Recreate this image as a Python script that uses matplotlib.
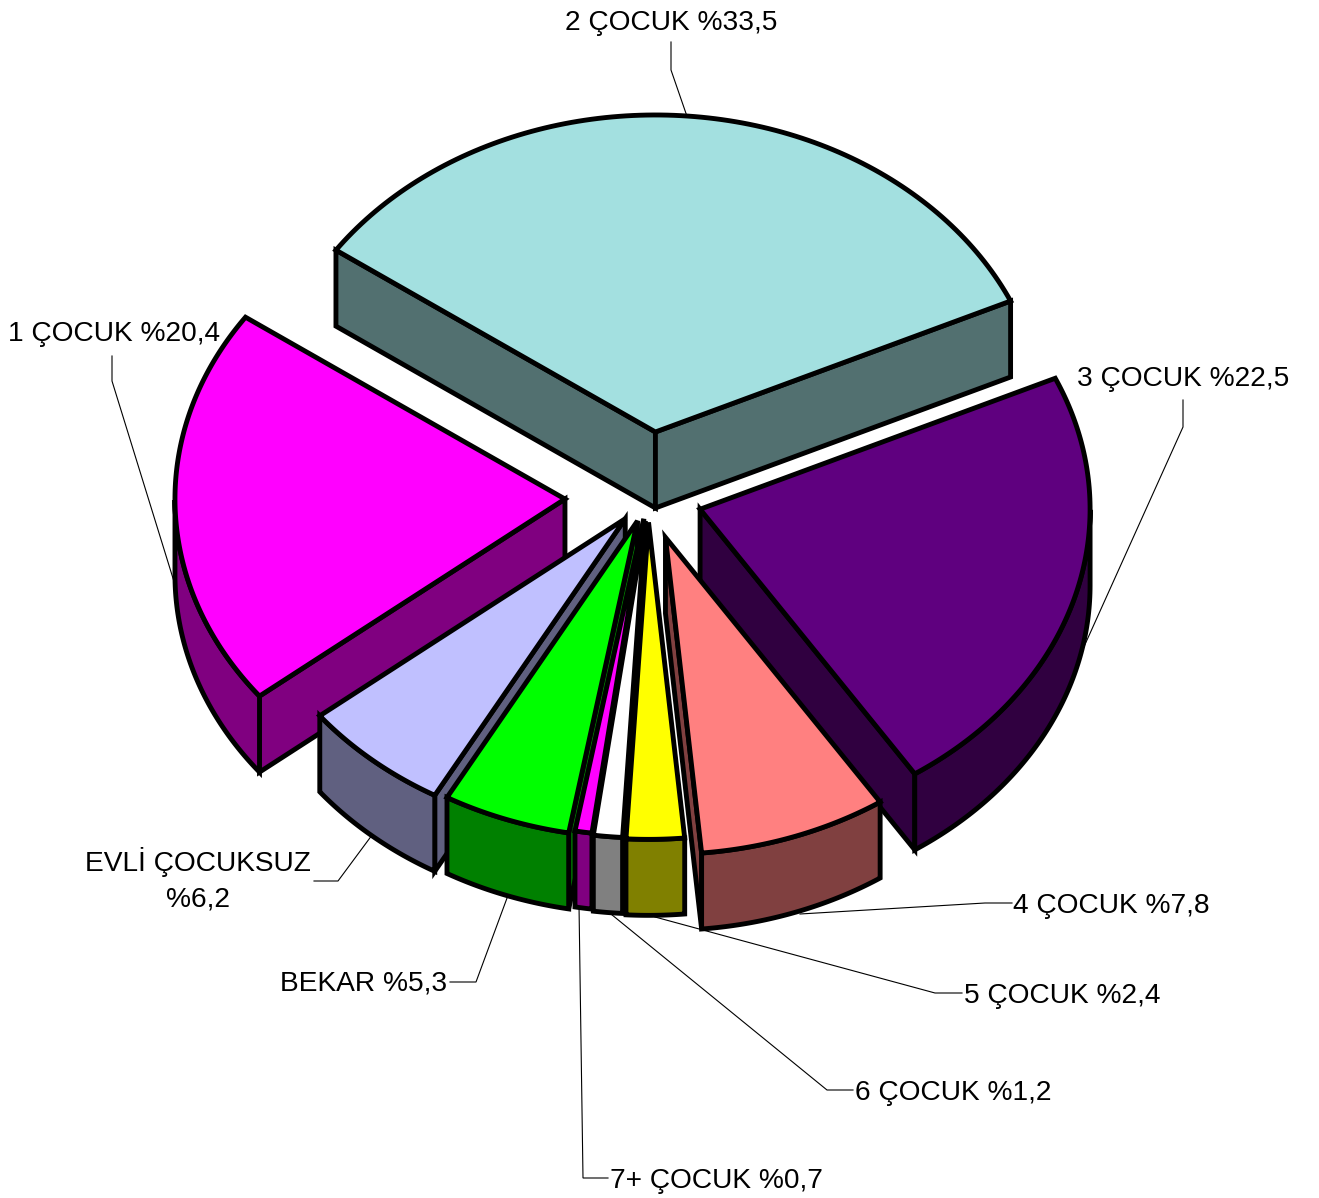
import numpy as np
import matplotlib
matplotlib.use("Agg")
import matplotlib.pyplot as plt
from matplotlib.patches import Polygon

plt.rcParams['font.family'] = ['Liberation Sans', 'DejaVu Sans']

# clockwise order, starting from the 1 COCUK / 2 COCUK boundary
names = ["2 ÇOCUK", "3 ÇOCUK", "4 ÇOCUK", "5 ÇOCUK", "6 ÇOCUK", "7+ ÇOCUK", "BEKAR", "EVLİ ÇOCUKSUZ", "1 ÇOCUK"]
values = [33.5, 22.5, 7.8, 2.4, 1.2, 0.7, 5.3, 6.2, 20.4]

top_colors = ["#A3E0E0", "#5F007F", "#FF8080", "#FFFF00", "#FFFFFF", "#FF00FF", "#00FF00", "#C0C0FF", "#FF00FF"]
side_colors = ["#527070", "#300040", "#804040", "#808000", "#808080", "#800080", "#008000", "#606080", "#800080"]
explode = [0.206, 0.139, 0.135, 0.08, 0.076, 0.07, 0.08, 0.09, 0.213]
draw_order = [0, 1, 8, 2, 7, 6, 5, 4, 3]

# label text anchors (x, baseline y, ha) and leader lines in pixels
label_pos = [(565, 30, 'left'), (1077, 386, 'left'), (1013, 913, 'left'), (964, 1003, 'left'),
             (855, 1100, 'left'), (610, 1188, 'left'), (280, 991, 'left'), (198, 907, 'center'), (8, 341, 'left')]
leaders = [[(671, 42), (671, 70), (690, 125)],
           [(1183, 400), (1183, 427), (1078, 660)],
           [(1012, 903), (985, 903), (800, 914)],
           [(962, 993), (935, 993), (655, 917)],
           [(853, 1090), (827, 1090), (606, 910)],
           [(608, 1178), (583, 1178), (579, 905)],
           [(450, 982), (476, 982), (510, 890)],
           [(314, 881), (338, 881), (378, 827)],
           [(112, 356), (112, 381), (176, 588)]]

cx, cy = 648, 497
a, b = 390, 317
depth = 76
start_angle = 145
lw = 3.5
font_size = 20.25

fig = plt.figure(figsize=(13.19, 11.98), dpi=100)
ax = fig.add_axes([0, 0, 1, 1])
ax.set_xlim(0, 1319)
ax.set_ylim(1198, 0)
ax.axis('off')


def rim(ox, oy, t):
    r = np.radians(t)
    return np.column_stack([ox + a * np.cos(r), oy - b * np.sin(r)])


def shape(pts, color, z):
    ax.add_patch(Polygon(pts, closed=True, facecolor=color, edgecolor='black',
                         linewidth=lw, joinstyle='miter', zorder=z))


angles = start_angle - np.cumsum([0] + values) * 3.6

for n, i in enumerate(draw_order):
    t_s, t_e = angles[i], angles[i + 1]
    mid = np.radians((t_s + t_e) / 2)
    ox = cx + explode[i] * a * np.cos(mid)
    oy = cy - explode[i] * b * np.sin(mid)
    apex = np.array([[ox, oy]])
    down = np.array([0, depth])
    z = 2 + n
    ts = np.linspace(t_s, t_e, 120)
    outer = rim(ox, oy, ts)

    # straight cut walls, only the ones turned towards the viewer
    for edge in (t_s, t_e):
        show = np.cos(np.radians(edge)) < 0 if edge == t_s else np.cos(np.radians(edge)) > 0
        if show:
            p = rim(ox, oy, np.array([edge]))
            shape(np.vstack([apex, p, p + down, apex + down]), side_colors[i], z)

    # curved outer wall for the front half
    front = np.sin(np.radians(ts)) <= 0
    if front.any():
        arc = outer[front]
        shape(np.vstack([arc, arc[::-1] + down]), side_colors[i], z)

    shape(np.vstack([apex, outer]), top_colors[i], z)

for i, name in enumerate(names):
    pct = f"%{values[i]:.1f}".replace('.', ',')
    x, y, ha = label_pos[i]
    if name.startswith("EVL"):
        ax.text(x, y - 36, name, fontsize=font_size, ha=ha, va='baseline', color='black', zorder=30)
        ax.text(x, y, pct, fontsize=font_size, ha=ha, va='baseline', color='black', zorder=30)
    else:
        ax.text(x, y, f"{name} {pct}", fontsize=font_size, ha=ha, va='baseline', color='black', zorder=30)
    xs, ys = zip(*leaders[i])
    # leaders run under the pie so they stop at its edge
    ax.plot(xs, ys, color='black', lw=0.8, zorder=1, solid_joinstyle='miter')

fig.savefig("out.png", dpi=100, facecolor='white')
